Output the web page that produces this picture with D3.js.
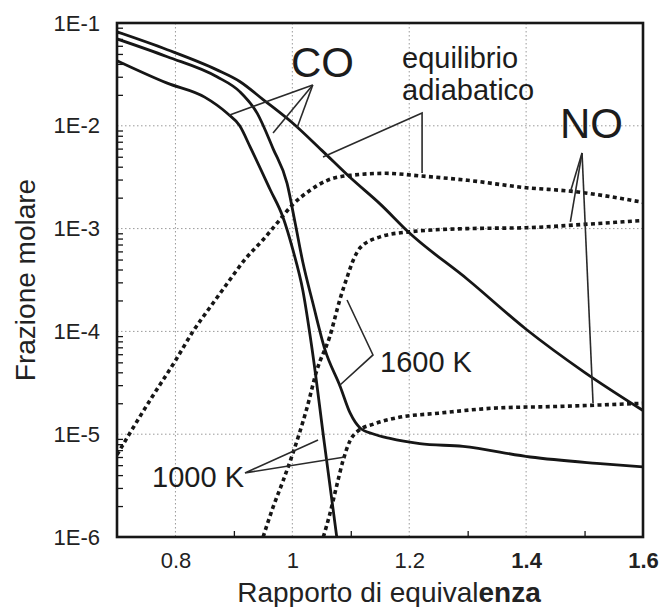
<!DOCTYPE html>
<html>
<head>
<meta charset="utf-8">
<script src="https://cdn.jsdelivr.net/npm/d3@7"></script>
<style>
  html, body { margin: 0; padding: 0; background: #fff; }
  svg { display: block; font-family: "Liberation Sans", Arial, Helvetica, sans-serif; }
</style>
</head>
<body>
<svg id="chart" width="661" height="607"></svg>
<script>
// Equivalence ratio (x) for each curve, molar fraction (y)
const coEqX   = [0.70, 0.786, 0.871, 0.91, 0.95, 1.00, 1.05, 1.10, 1.15, 1.20, 1.30, 1.40, 1.50, 1.60];
const coEqY   = [8.2e-2, 5.5e-2, 3.5e-2, 2.7e-2, 1.8e-2, 1.07e-2, 5.8e-3, 3.1e-3, 1.74e-3, 9.1e-4, 3.2e-4, 1.05e-4, 4.0e-5, 1.7e-5];

const coHotX  = [0.70, 0.786, 0.871, 0.91, 0.94, 0.967, 0.991, 1.005, 1.018, 1.035, 1.056, 1.082, 1.099, 1.116, 1.14, 1.167, 1.218, 1.292, 1.407, 1.521, 1.60];
const coHotY  = [7.0e-2, 4.7e-2, 3.0e-2, 2.15e-2, 1.32e-2, 6.0e-3, 2.75e-3, 1.12e-3, 4.7e-4, 1.9e-4, 6.6e-5, 2.9e-5, 1.6e-5, 1.15e-5, 1.0e-5, 9.1e-6, 8.1e-6, 7.6e-6, 6.0e-6, 5.2e-6, 4.8e-6];

const coColdX = [0.70, 0.786, 0.85, 0.888, 0.91, 0.928, 0.962, 0.984, 1.001, 1.018, 1.034, 1.055, 1.076];
const coColdY = [4.3e-2, 2.6e-2, 1.9e-2, 1.33e-2, 1.0e-2, 6.2e-3, 2.4e-3, 1.29e-3, 6.2e-4, 2.5e-4, 6.6e-5, 8.0e-6, 1.0e-6];

const noEqX   = [0.70, 0.72, 0.76, 0.80, 0.83, 0.86, 0.89, 0.92, 0.95, 0.975, 1.00, 1.03, 1.06, 1.10, 1.16, 1.22, 1.30, 1.40, 1.48, 1.60];
const noEqY   = [6.3e-6, 9.8e-6, 2.3e-5, 5.2e-5, 1.0e-4, 1.74e-4, 3.0e-4, 5.1e-4, 7.8e-4, 1.15e-3, 1.7e-3, 2.35e-3, 2.95e-3, 3.3e-3, 3.45e-3, 3.25e-3, 2.95e-3, 2.5e-3, 2.3e-3, 1.8e-3];

const noHotX  = [0.95, 0.967, 0.984, 1.00, 1.025, 1.042, 1.064, 1.082, 1.094, 1.104, 1.116, 1.15, 1.20, 1.30, 1.40, 1.50, 1.60];
const noHotY  = [1.0e-6, 1.95e-6, 3.5e-6, 6.3e-6, 1.8e-5, 4.2e-5, 8.9e-5, 2.1e-4, 3.4e-4, 4.9e-4, 6.5e-4, 8.3e-4, 9.3e-4, 1.0e-3, 1.02e-3, 1.1e-3, 1.2e-3];

const noColdX = [1.053, 1.064, 1.075, 1.087, 1.099, 1.112, 1.14, 1.18, 1.25, 1.35, 1.45, 1.60];
const noColdY = [1.0e-6, 1.66e-6, 3.0e-6, 5.6e-6, 8.7e-6, 1.07e-5, 1.26e-5, 1.45e-5, 1.6e-5, 1.8e-5, 1.86e-5, 2.0e-5];

// Axis ticks
const xTicks      = [0.8, 1.0, 1.2, 1.4, 1.6];
const xTickLabels = ["0.8", "1", "1.2", "1.4", "1.6"];
const xTickBold   = [false, false, false, true, true];
const xMinor      = [0.9, 1.1, 1.3, 1.5];
const yTicks      = [1e-1, 1e-2, 1e-3, 1e-4, 1e-5, 1e-6];
const yTickLabels = ["1E-1", "1E-2", "1E-3", "1E-4", "1E-5", "1E-6"];
const xGrid       = [0.8, 1.0, 1.2, 1.4];
const yGrid       = [1e-2, 1e-3, 1e-4, 1e-5];

const svg = d3.select("#chart");
const m = { left: 117, right: 643, top: 23, bottom: 537 };

const x = d3.scaleLinear().domain([0.7, 1.6]).range([m.left, m.right]);
const y = d3.scaleLog().domain([1e-6, 1e-1]).range([m.bottom, m.top]);

const ink = "#161616";

svg.append("defs").append("clipPath").attr("id", "plotClip")
  .append("rect")
  .attr("x", m.left).attr("y", m.top)
  .attr("width", m.right - m.left).attr("height", m.bottom - m.top);

// Grid
const grid = svg.append("g").attr("stroke", "#9a9a9a").attr("stroke-width", 1)
  .attr("stroke-dasharray", "1.5,2.5");
grid.selectAll(".gx").data(xGrid).join("line")
  .attr("x1", d => x(d)).attr("x2", d => x(d))
  .attr("y1", m.top).attr("y2", m.bottom);
grid.selectAll(".gy").data(yGrid).join("line")
  .attr("x1", m.left).attr("x2", m.right)
  .attr("y1", d => y(d)).attr("y2", d => y(d));

// Minor ticks on the log axis (inward)
const minorY = [];
for (let e = -6; e < -1; e++) for (let k = 2; k <= 9; k++) minorY.push(k * Math.pow(10, e));
const yMinorAxis = svg.append("g").attr("transform", `translate(${m.left},0)`)
  .call(d3.axisLeft(y).tickValues(minorY).tickSize(-6).tickFormat(""));
yMinorAxis.select(".domain").remove();
yMinorAxis.selectAll(".tick line").attr("stroke", ink).attr("stroke-width", 1.3);

const xMinorAxis = svg.append("g").attr("transform", `translate(0,${m.bottom})`)
  .call(d3.axisBottom(x).tickValues(xMinor).tickSize(-6).tickFormat(""));
xMinorAxis.select(".domain").remove();
xMinorAxis.selectAll(".tick line").attr("stroke", ink).attr("stroke-width", 1.3);

// Tick labels
const yLab = svg.append("g").attr("transform", `translate(${m.left},0)`)
  .call(d3.axisLeft(y).tickValues(yTicks).tickSize(0).tickPadding(17)
    .tickFormat((d, i) => yTickLabels[i]));
yLab.select(".domain").remove();
yLab.selectAll("text").attr("font-size", 22).attr("fill", "#222")
  .attr("font-family", "Liberation Sans, Arial, sans-serif");

const xLab = svg.append("g").attr("transform", `translate(0,${m.bottom})`)
  .call(d3.axisBottom(x).tickValues(xTicks).tickSize(0).tickPadding(15)
    .tickFormat((d, i) => xTickLabels[i]));
xLab.select(".domain").remove();
xLab.selectAll("text").attr("font-size", 22).attr("fill", "#222")
  .attr("font-family", "Liberation Sans, Arial, sans-serif")
  .attr("font-weight", (d, i) => xTickBold[i] ? "bold" : "normal");

// Curves
const line = d3.line().x(d => x(d[0])).y(d => y(d[1])).curve(d3.curveMonotoneX);
const zip = (xs, ys) => xs.map((v, i) => [v, ys[i]]);

const curves = [
  { pts: zip(coEqX, coEqY), dotted: false },
  { pts: zip(coHotX, coHotY), dotted: false },
  { pts: zip(coColdX, coColdY), dotted: false },
  { pts: zip(noEqX, noEqY), dotted: true },
  { pts: zip(noHotX, noHotY), dotted: true },
  { pts: zip(noColdX, noColdY), dotted: true }
];

const plot = svg.append("g").attr("clip-path", "url(#plotClip)");
plot.selectAll("path.curve").data(curves).join("path")
  .attr("class", "curve")
  .attr("d", d => line(d.pts))
  .attr("fill", "none")
  .attr("stroke", ink)
  .attr("stroke-width", d => d.dotted ? 3.6 : 2.8)
  .attr("stroke-dasharray", d => d.dotted ? "4,3.4" : null);

// Frame
svg.append("rect")
  .attr("x", m.left).attr("y", m.top)
  .attr("width", m.right - m.left).attr("height", m.bottom - m.top)
  .attr("fill", "none").attr("stroke", ink).attr("stroke-width", 2.6);

// Annotation leader lines (in data coordinates)
const leaders = [
  // CO
  [[1.035, 2.49e-2], [0.8916, 1.27e-2]],
  [[1.035, 2.49e-2], [0.967, 8.5e-3]],
  [[1.035, 2.49e-2], [1.008, 9.5e-3]],
  // equilibrio adiabatico
  [[1.0525, 4.97e-3], [1.222, 1.33e-2], [1.222, 3.47e-3]],
  // NO
  [[1.4957, 5.44e-3], [1.4757, 2.27e-3]],
  [[1.4957, 5.44e-3], [1.4757, 1.16e-3]],
  [[1.4957, 5.44e-3], [1.5145, 2.01e-5]],
  // 1600 K
  [[1.0936, 2.02e-4], [1.138, 5.9e-5], [1.0816, 3.01e-5]],
  // 1000 K
  [[1.044, 8.8e-6], [0.919, 4.2e-6], [1.090, 6.0e-6]]
];
const straight = d3.line().x(d => x(d[0])).y(d => y(d[1]));
svg.append("g").selectAll("path").data(leaders).join("path")
  .attr("d", d => straight(d))
  .attr("fill", "none").attr("stroke", "#2a2a2a").attr("stroke-width", 1.6)
  .attr("stroke-linejoin", "miter");

// Annotation text
const notes = [
  { t: "CO",         px: 0.9977, v: 2.98e-2, size: 42 },
  { t: "equilibrio", px: 1.1877, v: 3.65e-2, size: 29 },
  { t: "adiabatico", px: 1.1877, v: 1.78e-2, size: 29 },
  { t: "NO",         px: 1.458,  v: 7.6e-3,  size: 42 },
  { t: "1600 K",     px: 1.150,  v: 4.03e-5, size: 29 },
  { t: "1000 K",     px: 0.760,  v: 3.06e-6, size: 29 }
];
svg.append("g").selectAll("text").data(notes).join("text")
  .attr("x", d => x(d.px)).attr("y", d => y(d.v))
  .attr("font-size", d => d.size).attr("fill", "#1c1c1c")
  .text(d => d.t);

// Axis titles
const xt = svg.append("text")
  .attr("x", (m.left + m.right) / 2 + 9).attr("y", 602)
  .attr("text-anchor", "middle").attr("font-size", 28).attr("fill", "#222");
xt.append("tspan").text("Rapporto di equival");
xt.append("tspan").attr("font-weight", "bold").text("enza");

svg.append("text")
  .attr("transform", `translate(35,${(177 + 383) / 2}) rotate(-90)`)
  .attr("text-anchor", "middle").attr("font-size", 28).attr("fill", "#222")
  .text("Frazione molare");
</script>
</body>
</html>
